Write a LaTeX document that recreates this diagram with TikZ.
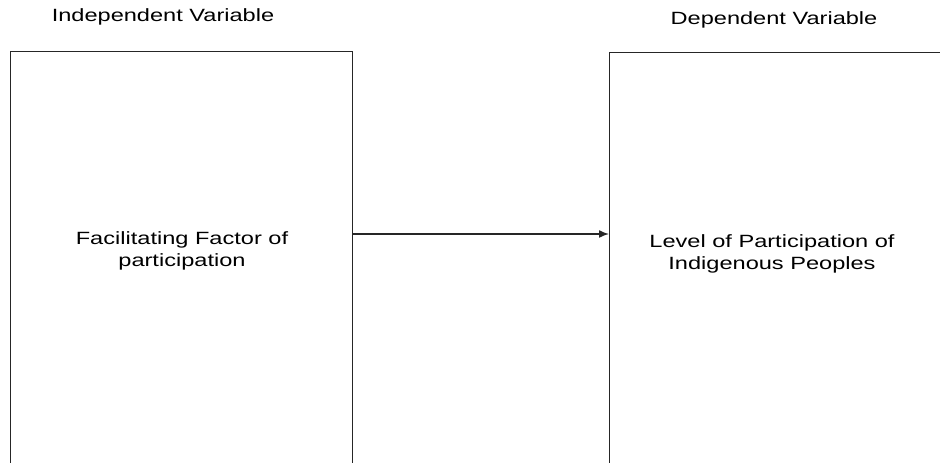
\documentclass[tikz,border=0pt]{standalone}
\usepackage{fontspec}
\setmainfont[FakeStretch=1.33]{Liberation Sans}
\usetikzlibrary{arrows.meta}

\tikzset{
	varbox/.style={draw=black!85,line width=1.1pt,anchor=north west,inner sep=0pt},
	vartext/.style={align=center,font=\fontsize{13.3}{16.5}\selectfont},
}

\begin{document}
\begin{tikzpicture}[x=0.75pt,y=-0.75pt]
	\useasboundingbox (0,0) rectangle (940,463);
	\clip (0,0) rectangle (940,463);
	\node[vartext] (indeplabel) at (163,17) {Independent Variable};
	\node[vartext] (deplabel) at (774,20) {Dependent Variable};
	\node[varbox,minimum width=256.5pt,minimum height=322pt] (indep) at (10,51) {};
	\node[varbox,minimum width=270pt,minimum height=322pt] (dep) at (609,52) {};
	\node[vartext] (facil) at (182,251) {Facilitating Factor of\\participation};
	\node[vartext] (level) at (772,254) {Level of Participation of\\Indigenous Peoples};
	\coordinate (arrowy) at (0,234);
	\draw[-{Latex[length=7.5pt,width=6pt]},line width=1.1pt,draw=black!85] (indep.east |- arrowy) -- (dep.west |- arrowy);
\end{tikzpicture}
\end{document}
